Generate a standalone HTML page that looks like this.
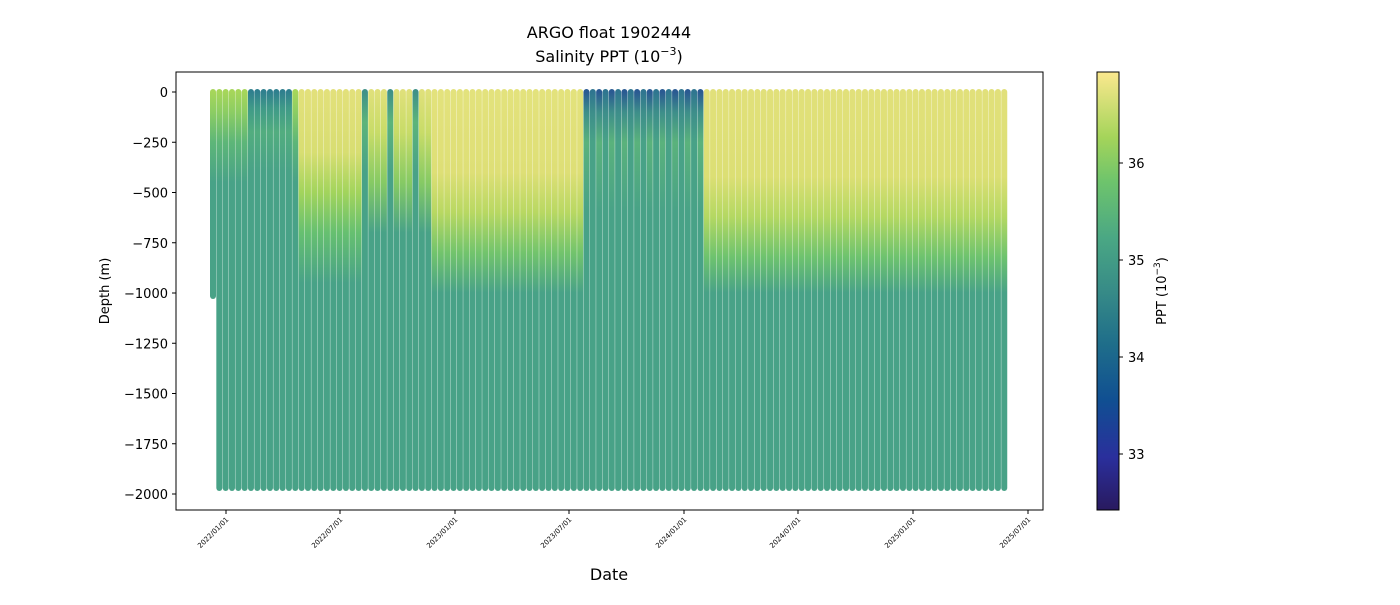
<!DOCTYPE html>
<html><head><meta charset="utf-8"><style>
body{margin:0;background:#fff;font-family:"Liberation Sans","DejaVu Sans",sans-serif}
svg text{font-family:"DejaVu Sans","Liberation Sans",sans-serif;fill:#000}
</style></head><body>
<svg id="s" width="1400" height="600" xmlns="http://www.w3.org/2000/svg">
<defs>
<linearGradient id="cb" x1="0" y1="1" x2="0" y2="0">
<stop offset="0" stop-color="#291a5f"/>
<stop offset="0.12" stop-color="#2a2f9c"/>
<stop offset="0.25" stop-color="#104f92"/>
<stop offset="0.38" stop-color="#1f6e8a"/>
<stop offset="0.5" stop-color="#378b87"/>
<stop offset="0.62" stop-color="#4aa784"/>
<stop offset="0.75" stop-color="#6ec46c"/>
<stop offset="0.85" stop-color="#a4d45a"/>
<stop offset="1" stop-color="#fbe88e"/>
</linearGradient>
</defs>
<g id="bars"></g>
<rect x="176" y="72" width="867" height="438" fill="none" stroke="#000" stroke-width="1"/>
<text x="609" y="38" font-size="16" text-anchor="middle">ARGO float 1902444</text>
<text x="609" y="62" font-size="16" text-anchor="middle">Salinity PPT (10<tspan font-size="11" dy="-7">−3</tspan><tspan dy="7">)</tspan></text>
<g id="yt" font-size="13" text-anchor="end"></g>
<text transform="translate(109,291) rotate(-90)" font-size="13" text-anchor="middle">Depth (m)</text>
<g id="xt" font-size="7"></g>
<text x="609" y="580" font-size="16" text-anchor="middle">Date</text>
<rect x="1097" y="72" width="22" height="438" fill="url(#cb)" stroke="#000" stroke-width="1"/>
<g font-size="13">
<line x1="1119" x2="1123" y1="163" y2="163" stroke="#000"/><text x="1128" y="168">36</text>
<line x1="1119" x2="1123" y1="260" y2="260" stroke="#000"/><text x="1128" y="265">35</text>
<line x1="1119" x2="1123" y1="357" y2="357" stroke="#000"/><text x="1128" y="362">34</text>
<line x1="1119" x2="1123" y1="454" y2="454" stroke="#000"/><text x="1128" y="459">33</text>
</g>
<text transform="translate(1166,291) rotate(-90)" font-size="13" text-anchor="middle">PPT (10<tspan font-size="9" dy="-6">−3</tspan><tspan dy="6">)</tspan></text>
</svg>
<script>
var NS="http://www.w3.org/2000/svg",s=document.getElementById('s'),defs=s.querySelector('defs'),g=document.getElementById('bars');
function el(n,a,p){var e=document.createElementNS(NS,n);for(var k in a)e.setAttribute(k,a[k]);(p||s).appendChild(e);return e;}
function Y(d){return 92-d*0.201;}
var yt=document.getElementById('yt');
[0,-250,-500,-750,-1000,-1250,-1500,-1750,-2000].forEach(function(v){var y=Y(v);
el('line',{x1:172,x2:176,y1:y,y2:y,stroke:'#000'});var t=el('text',{x:168,y:y+5},yt);t.textContent=(v<0?'−':'')+Math.abs(v);});
var xt=document.getElementById('xt');
[['2022/01/01',226],['2022/07/01',340],['2023/01/01',455],['2023/07/01',569],['2024/01/01',684],['2024/07/01',798],['2025/01/01',913],['2025/07/01',1028]].forEach(function(a){
el('line',{x1:a[1],x2:a[1],y1:510,y2:514,stroke:'#000'});var t=el('text',{transform:'translate('+(a[1]+3)+',520) rotate(-45)','text-anchor':'end'},xt);t.textContent=a[0];});
var T='#48a287';
function stops(x,i){
 if(x<300){ if(x>250&&x<292) return [[0,'#2f7f8e'],[80,'#3f9a88'],[200,'#52ad7f'],[400,T]];
   return [[0,'#a6d65a'],[100,'#8ccd63'],[250,'#5db678'],[450,T]];}
 if(x<360) return [[0,'#e2e07a'],[300,'#d8de72'],[500,'#a2d45c'],[700,'#66c070'],[950,T]];
 if(x<430){ if(i%4==0) return [[0,'#3e9088'],[150,'#5cb47a'],[400,T]];
   return [[0,'#dfe07a'],[200,'#c8dc68'],[450,'#86ca64'],[700,T]];}
 if(x<585) return [[0,'#e3e27c'],[400,'#dedf76'],[600,'#b8d862'],[800,'#72c46c'],[1000,T]];
 if(x<705) return [[0,i%2?'#2a5a92':'#2f7590'],[100,'#3d8e8a'],[250,i%2?'#5ab27c':'#48a287'],[600,T]];
 return [[0,'#e1e07a'],[420,'#dcdf74'],[620,'#b4d862'],[820,'#6ec36e'],[1000,T]];
}
var i=0;
for(var x=213;x<=1005;x+=6.33,i++){
 var bottom=(i==0)?1030:1985;
 var id='g'+i,lg=el('linearGradient',{id:id,x1:0,y1:0,x2:0,y2:1,gradientUnits:'userSpaceOnUse'},defs);
 lg.setAttribute('y1',Y(0));lg.setAttribute('y2',Y(-2000));
 stops(x,i).forEach(function(st){el('stop',{offset:st[0]/2000,'stop-color':st[1]},lg);});
 var yb=Y(-bottom);
 el('rect',{x:x-3,y:Y(0)-3,width:6,height:yb-Y(0)+3,rx:3,fill:'url(#'+id+')'},g);
}
</script>
</body></html>
